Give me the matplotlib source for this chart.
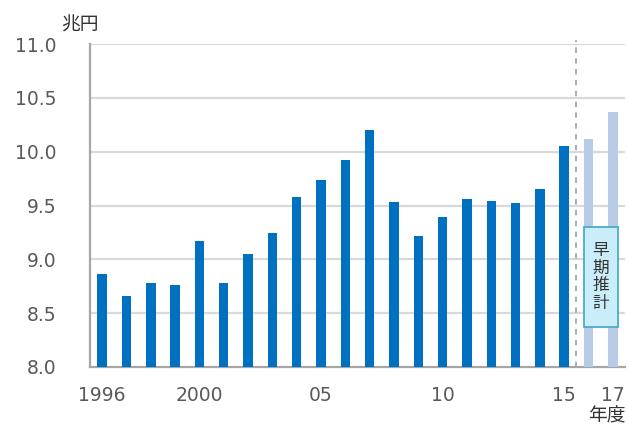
import matplotlib
matplotlib.use("Agg")
import matplotlib.pyplot as plt
from matplotlib.patches import FancyBboxPatch

plt.rcParams['font.family'] = ['DejaVu Sans', 'Noto Sans CJK JP']

years = list(range(1996, 2018))
values = [8.86, 8.66, 8.78, 8.76, 9.17, 8.78, 9.05, 9.24, 9.575, 9.74, 9.92,
          10.20, 9.53, 9.22, 9.39, 9.56, 9.54, 9.525, 9.65, 10.05, 10.12, 10.37]
estimate_years = [2016, 2017]
tick_years = [1996, 2000, 2005, 2010, 2015, 2017]
tick_labels = ["1996", "2000", "05", "10", "15", "17"]
y_ticks = [8.0, 8.5, 9.0, 9.5, 10.0, 10.5, 11.0]
unit_label = "兆円"
x_unit = "年度"
box_text = "早\n期\n推\n計"

DARK = "#0070C0"
LIGHT = "#B7CBE6"
GRID = "#D9D9D9"
AXIS = "#A6A6A6"
TXT = "#595959"

fig = plt.figure(figsize=(6.28, 4.26), dpi=100)
ax = fig.add_axes([90/628, 1-367/426, (625-90)/628, (367-44)/426])

x = list(range(len(years)))
colors = [LIGHT if y in estimate_years else DARK for y in years]
ax.bar(x, [v - 8.0 for v in values], bottom=8.0, width=0.39, color=colors, zorder=3)

ax.set_xlim(-0.5, len(years) - 0.5)
ax.set_ylim(8.0, 11.0)
ax.set_yticks(y_ticks)
ax.set_yticklabels([f"{t:.1f}" for t in y_ticks], fontsize=13.5, color=TXT)
for t in y_ticks[1:]:
    ax.axhline(t, color=GRID, lw=1.6, zorder=1)

ax.set_xticks([years.index(t) for t in tick_years])
ax.set_xticklabels(tick_labels, fontsize=13.5, color=TXT)
ax.tick_params(axis='both', length=0)
ax.tick_params(axis='y', pad=24)
ax.tick_params(axis='x', pad=14)

for s in ['top', 'right']:
    ax.spines[s].set_visible(False)
for s in ['left', 'bottom']:
    ax.spines[s].set_color(AXIS)
    ax.spines[s].set_linewidth(1.6)

# divider between actual and estimate
div_x = years.index(2015) + 0.5
ax.plot([div_x, div_x], [8.0, 11.04], ls=(0, (3, 3)), color=AXIS, lw=1.3,
        zorder=2, clip_on=False)

# unit labels
fig.text(61/628, 1-25/426, unit_label, fontsize=13.5, color="#333333",
         family=['Noto Sans CJK JP'], ha='left', va='center')
fig.text(607/628, 1-416/426, x_unit, fontsize=13.5, color="#333333",
         family=['Noto Sans CJK JP'], ha='center', va='center')

# estimate box
bx0, bx1 = 584, 618
by0, by1 = 227, 327
box = FancyBboxPatch((bx0/628, 1-by1/426), (bx1-bx0)/628, (by1-by0)/426,
                     boxstyle="square,pad=0", transform=fig.transFigure,
                     facecolor="#C9EEF9", edgecolor="#4BACC6", lw=1.3, zorder=5)
fig.patches.append(box)
fig.text((bx0+bx1)/2/628, 1-(by0+by1)/2/426, box_text, fontsize=12,
         color="#333333", family=['Noto Sans CJK JP'], ha='center', va='center',
         linespacing=1.05, zorder=6)

fig.savefig("out.png", dpi=100)
